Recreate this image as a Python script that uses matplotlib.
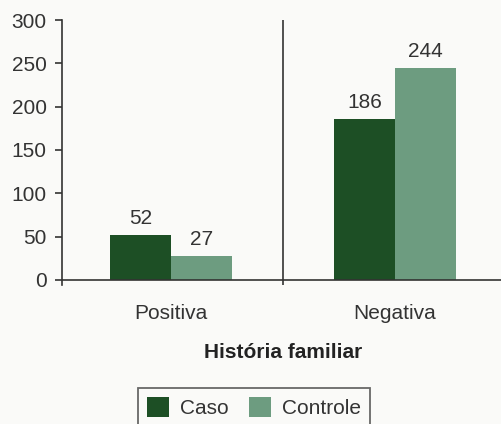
import matplotlib
matplotlib.use("Agg")
import matplotlib.pyplot as plt
import numpy as np
from matplotlib.patches import Patch

# ----------------------------
# Data
# ----------------------------
categories = ["Positiva", "Negativa"]
series_names = ["Caso", "Controle"]
caso = [52, 186]
controle = [27, 244]
y_ticks = [0, 50, 100, 150, 200, 250, 300]

dark_green = "#1d4f25"
light_green = "#6d9c80"
ink = "#333333"
fs = 15

plt.rcParams['font.family'] = ['Liberation Sans', 'DejaVu Sans']

fig = plt.figure(figsize=(5.02, 4.24), dpi=100, facecolor="#fafaf8")
ax = fig.add_axes([62 / 502, 1 - 285 / 424, 1 - 62 / 502, (285 - 20) / 424])
ax.set_facecolor("none")

x = np.arange(len(categories))
w = 0.272
bars1 = ax.bar(x - w / 2, caso, w, color=dark_green, zorder=2)
bars2 = ax.bar(x + w / 2, controle, w, color=light_green, zorder=2)

# value labels above bars
for bars, vals in ((bars1, caso), (bars2, controle)):
    for b, v in zip(bars, vals):
        ax.annotate(str(v), (b.get_x() + b.get_width() / 2, v),
                    xytext=(0, 8), textcoords="offset points",
                    ha="center", va="baseline", fontsize=fs, color=ink)

ax.set_xlim(-0.487, 1.478)
ax.set_ylim(-6, 300)

# axes lines
for s in ("top", "right", "bottom"):
    ax.spines[s].set_visible(False)
ax.spines["left"].set_color(ink)
ax.spines["left"].set_linewidth(1.2)
ax.axhline(0, color=ink, lw=1.2, zorder=3)
ax.axvline(0.5, color=ink, lw=1.2, zorder=3)

ax.set_yticks(y_ticks)
ax.tick_params(axis="y", length=5, width=1.2, color=ink, pad=6,
               labelsize=fs, labelcolor=ink)
ax.set_xticks(x)
ax.set_xticklabels(categories)
ax.tick_params(axis="x", length=0, pad=14, labelsize=fs, labelcolor=ink)

fig.text(283 / 502, 1 - 358 / 424, "História familiar", ha="center",
         va="baseline", fontsize=fs, fontweight="bold", color="#222222")

handles = [Patch(facecolor=dark_green, label=series_names[0]),
           Patch(facecolor=light_green, label=series_names[1])]
leg = fig.legend(handles=handles, loc="upper center",
                 bbox_to_anchor=(254 / 502, 1 - 388 / 424), ncol=2,
                 fontsize=fs, frameon=True, fancybox=False,
                 handlelength=1.05, handleheight=1.05, handletextpad=0.5,
                 columnspacing=1.0, borderpad=0.45, borderaxespad=0)
leg.get_frame().set_edgecolor("#444444")
leg.get_frame().set_linewidth(1.3)
leg.get_frame().set_facecolor("#fafaf8")
for t in leg.get_texts():
    t.set_color(ink)

fig.savefig("out.png", dpi=100, facecolor=fig.get_facecolor())
